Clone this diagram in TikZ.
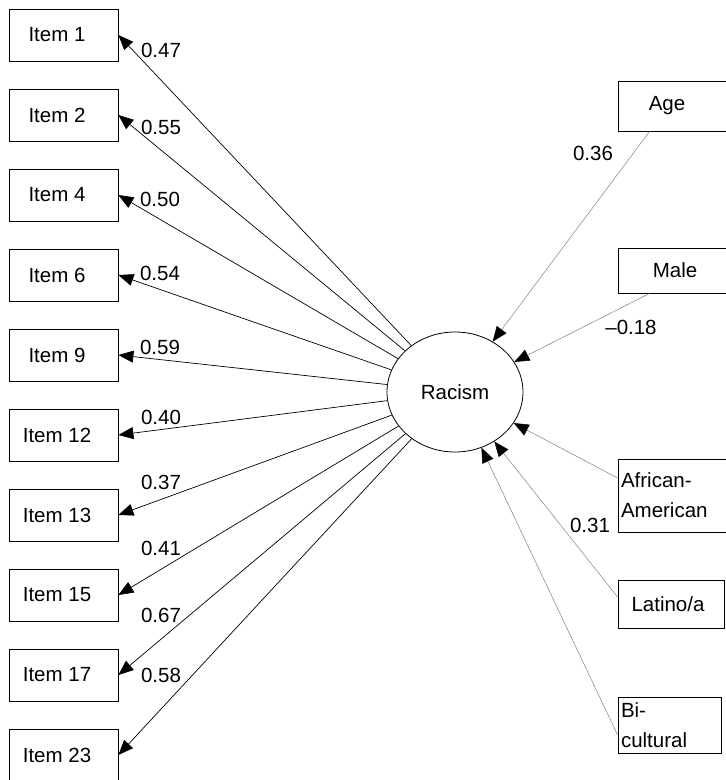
\documentclass[tikz,border=0pt]{standalone}
\usepackage{fontspec}
\setmainfont{Liberation Sans}
\usetikzlibrary{arrows.meta,shapes.geometric}
\tikzset{
  itembox/.style={draw,line width=0.8pt,minimum width=109pt,minimum height=52pt,inner sep=0pt,
    execute at end node=\hspace*{13pt}},
  predbox/.style={draw,line width=0.8pt,inner sep=0pt},
  coef/.style={inner sep=0pt},
  loading/.style={line width=0.7pt,-{Triangle[length=15pt,width=12pt]}},
  effect/.style={draw=gray,line width=0.5pt,-{Triangle[length=15pt,width=12pt,color=black]}}
}
\begin{document}
\begin{tikzpicture}[x=1pt,y=-1pt,font=\fontsize{20.5}{30}\selectfont]
      \useasboundingbox (0,0) rectangle (726,780);
      \node[ellipse,draw,line width=0.8pt,minimum width=136pt,minimum height=120pt,inner sep=0pt]
        (racism) at (455,392) {Racism};
      % indicators
      \draw
        (63.5,35) node[itembox] (i1){Item 1}
        (63.5,115) node[itembox] (i2){Item 2}
        (63.5,195) node[itembox] (i4){Item 4}
        (63.5,275) node[itembox] (i6){Item 6}
        (63.5,355) node[itembox] (i9){Item 9}
        (63.5,435) node[itembox] (i12){Item 12}
        (63.5,515) node[itembox] (i13){Item 13}
        (63.5,595) node[itembox] (i15){Item 15}
        (63.5,675) node[itembox] (i17){Item 17}
        (63.5,755) node[itembox] (i23){Item 23};
      % predictors
      \node[predbox,minimum width=108pt,minimum height=50pt] (age) at (672,106) {Age\hspace*{10pt}};
      \node[predbox,minimum width=108pt,minimum height=45pt] (male) at (672,270.5) {\hspace*{6pt}Male};
      \node[predbox,text width=102pt,inner xsep=3pt,align=left,minimum height=73pt]
        (afram) at (672,495.5) {African-\\American};
      \node[predbox,minimum width=106pt,minimum height=48pt] (latino) at (671,604) {Latino/a\hspace*{6pt}};
      \node[predbox,text width=97pt,inner xsep=3pt,align=left,minimum height=56pt]
        (bicult) at (669.5,725) {Bi-\\cultural};
      \coordinate (agefoot) at ([xshift=32pt]age.south west);
      \coordinate (malefoot) at ([xshift=32pt]male.south west);
      \coordinate (aframfoot) at ([yshift=17.5pt]afram.west);
      \coordinate (latinofoot) at ([yshift=7pt]latino.west);
      \coordinate (bicultfoot) at ([yshift=-10pt]bicult.west);
      \begin{scope}[loading]
        \draw (racism) to (i1.east);
        \draw (racism) to (i2.east);
        \draw (racism) to (i4.east);
        \draw (racism) to (i6.east);
        \draw (racism) to (i9.east);
        \draw (racism) to (i12.east);
        \draw (racism) to (i13.east);
        \draw (racism) to (i15.east);
        \draw (racism) to (i17.east);
        \draw (racism) to (i23.east);
      \end{scope}
      \begin{scope}[effect]
        \draw (agefoot) to (racism);
        \draw (malefoot) to (racism);
        \draw (aframfoot) to (racism);
        \draw (latinofoot) to (racism);
        \draw (bicultfoot) to (racism);
      \end{scope}
      % coefficients
      \draw
        (161,50) node[coef] (c1){0.47}
        (161,127) node[coef] (c2){0.55}
        (160,199) node[coef] (c4){0.50}
        (160,273) node[coef] (c6){0.54}
        (160,347) node[coef] (c9){0.59}
        (161,417) node[coef] (c12){0.40}
        (161,482) node[coef] (c13){0.37}
        (161,548) node[coef] (c15){0.41}
        (161,615) node[coef] (c17){0.67}
        (161,675) node[coef] (c23){0.58}
        (593,153) node[coef] (cage){0.36}
        (631,327) node[coef] (cmale){--0.18}
        (590,525) node[coef] (cafram){0.31};
    \end{tikzpicture}
\end{document}
